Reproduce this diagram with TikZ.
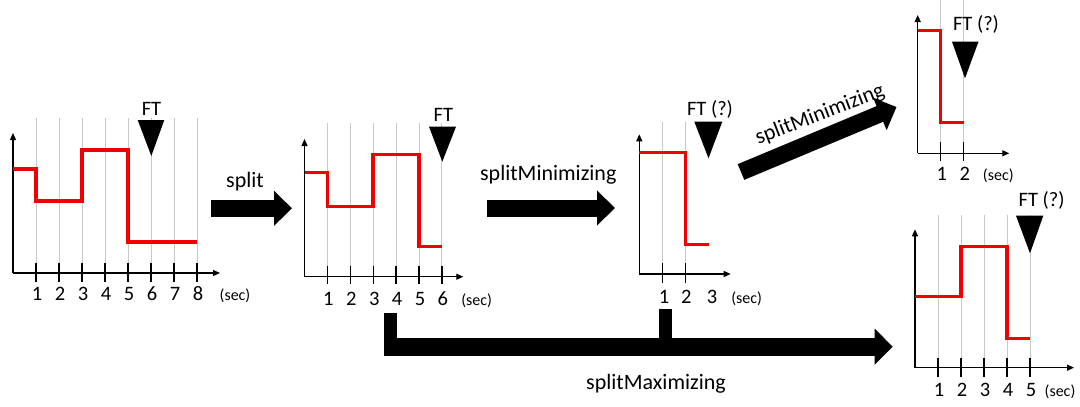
\documentclass[tikz,border=0pt]{standalone}
\usepackage{fontspec}
\setmainfont{Carlito}
\usetikzlibrary{arrows.meta}
\definecolor{gridgray}{RGB}{200,200,200}
\definecolor{stepred}{RGB}{240,0,0}
\tikzset{
  gridln/.style={draw=gridgray, line width=1pt},
  axisln/.style={draw=black, line width=1.3pt, -{Triangle[length=7pt,width=6pt]}},
  tickln/.style={draw=black, line width=1.3pt},
  redln/.style={draw=stepred, line width=3.5pt, line join=miter},
  numlbl/.style={font=\fontsize{20.5}{22}\selectfont, anchor=base, inner sep=0pt},
  seclbl/.style={font=\fontsize{16}{18}\selectfont, anchor=base, inner sep=0pt},
  ftlbl/.style={font=\fontsize{20.5}{22}\selectfont, anchor=base, inner sep=0pt},
  marker/.style={fill=black},
  oplbl/.style={font=\fontsize{22}{24}\selectfont, inner sep=0pt},
  bigarrow/.style={draw=black, line width=17pt, -{Triangle[length=18pt,width=34pt]}},
  stem/.style={fill=black},
}
\begin{document}
\begin{tikzpicture}[x=1pt,y=-1pt]
\useasboundingbox (0,0) rectangle (1080,407);
\fill[white] (0,0) rectangle (1080,407);

% ---------- chart 1 ----------
\foreach \k in {1,...,8} {
  \draw[gridln] (13+23*\k,118) -- (13+23*\k,273);
  \draw[tickln] (13+23*\k,263) -- (13+23*\k,282);
  \node[numlbl] (c1n\k) at (14+23*\k,300) {\k};
}
\draw[axisln] (13,273) -- (13,133);
\draw[axisln] (13,273) -- (220,273);
\draw[redln] (13,169) -| (36,201) -| (82,150) -| (128,242) -- (197,242);
\node[seclbl] (c1sec) at (235,300) {(sec)};
\node[ftlbl] (c1ft) at (151.5,115) {FT};
\fill[marker] (137.7,120) -- (164.3,120) -- (151.3,156) -- cycle;

% ---------- chart 2 ----------
\foreach \k in {1,...,6} {
  \draw[gridln] (304.5+22.9*\k,123) -- (304.5+22.9*\k,276.7);
  \draw[tickln] (304.5+22.9*\k,265.7) -- (304.5+22.9*\k,284);
  \node[numlbl] (c2n\k) at (305.5+22.9*\k,305) {\k};
}
\draw[axisln] (304.5,276.7) -- (304.5,139);
\draw[axisln] (304.5,276.7) -- (463.3,276.7);
\draw[redln] (304.5,172.7) -| (327.4,206.7) -| (373.2,154.3) -| (419,246.7) -- (441.9,246.7);
\node[seclbl] (c2sec) at (476.7,305) {(sec)};
\node[ftlbl] (c2ft) at (443.3,121.7) {FT};
\fill[marker] (429,126.7) -- (456,126.7) -- (442.3,161.7) -- cycle;

% ---------- chart 3 ----------
\foreach \k in {1,2} {
  \draw[gridln] (639.3+23*\k,121.7) -- (639.3+23*\k,274);
  \draw[tickln] (639.3+23*\k,263.3) -- (639.3+23*\k,282.7);
}
\draw[axisln] (639.3,274) -- (639.3,134.3);
\draw[axisln] (639.3,274) -- (730.7,274);
\draw[redln] (639.3,152.7) -| (685.3,244.3) -- (709,244.3);
\node[numlbl] (c3n1) at (664,303) {1};
\node[numlbl] (c3n2) at (686.3,303) {2};
\node[numlbl] (c3n3) at (712,303) {3};
\node[seclbl] (c3sec) at (746.7,303) {(sec)};
\node[ftlbl] (c3ft) at (710,115) {FT (?)};
\fill[marker] (694.3,121.7) -- (722.3,121.7) -- (708.5,158.3) -- cycle;

% ---------- chart 4 ----------
\foreach \k in {1,2} {
  \draw[gridln] (917.7+23*\k,0) -- (917.7+23*\k,153.3);
  \draw[tickln] (917.7+23*\k,141.7) -- (917.7+23*\k,160.7);
  \node[numlbl] (c4n\k) at (918.7+23*\k,180) {\k};
}
\draw[axisln] (917.7,153.3) -- (917.7,15);
\draw[axisln] (917.7,153.3) -- (1009.3,153.3);
\draw[redln] (917.7,30.3) -| (940.7,122.3) -- (964,122.3);
\node[seclbl] (c4sec) at (998.3,180) {(sec)};
\node[ftlbl] (c4ft) at (976,30.7) {FT (?)};
\fill[marker] (952,41.7) -- (978.5,41.7) -- (965,78.3) -- cycle;

% ---------- chart 5 ----------
\foreach \k in {1,...,5} {
  \draw[gridln] (915+23*\k,215) -- (915+23*\k,367.7);
  \draw[tickln] (915+23*\k,358.3) -- (915+23*\k,377.3);
  \node[numlbl] (c5n\k) at (916+23*\k,396.7) {\k};
}
\draw[axisln] (915,367.7) -- (915,229.3);
\draw[axisln] (915,367.7) -- (1074,367.7);
\draw[redln] (915,296.7) -| (961,246.7) -| (1007,338.3) -- (1030,338.3);
\node[seclbl] (c5sec) at (1060,396.7) {(sec)};
\node[ftlbl] (c5ft) at (1041.7,206.7) {FT (?)};
\fill[marker] (1016,215.7) -- (1043.3,215.7) -- (1030,253.3) -- cycle;

% ---------- operation arrows ----------
\coordinate (s1a) at (211,208.3);
\coordinate (s1b) at (292,208.3);
\draw[bigarrow] (s1a) -- (s1b);
\node[oplbl] (lsplit) at (245,181.7) {split};

\coordinate (s2a) at (487.3,208);
\coordinate (s2b) at (615,208);
\draw[bigarrow] (s2a) -- (s2b);
\node[oplbl] (lmin1) at (548.3,175) {splitMinimizing};

\coordinate (s3a) at (741,172);
\coordinate (s3b) at (896.5,107);
\draw[bigarrow] (s3a) -- (s3b);
\node[oplbl, rotate=21] (lmin2) at (820,115) {splitMinimizing};

\coordinate (s4a) at (384,346.7);
\coordinate (s4b) at (892.7,346.7);
\fill[stem] (384,312.7) rectangle (396.7,347);
\fill[stem] (659,309) rectangle (672.3,346);
\draw[bigarrow, line width=18pt, -{Triangle[length=18pt,width=35pt]}] (s4a) -- (s4b);
\node[oplbl] (lmax) at (656,384) {splitMaximizing};
\end{tikzpicture}
\end{document}
